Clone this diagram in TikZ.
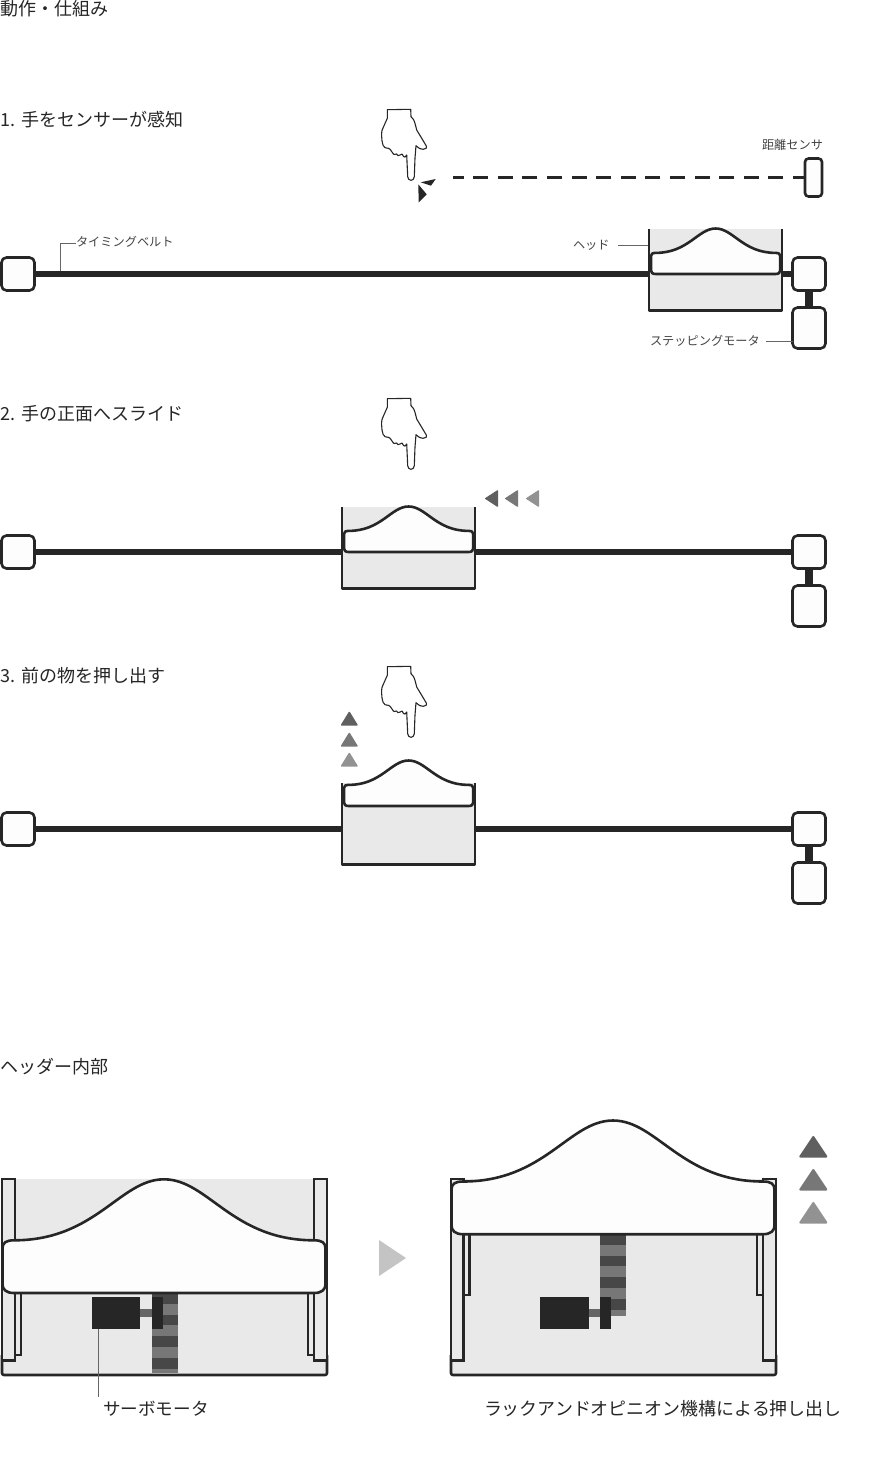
\documentclass[tikz,border=0pt]{standalone}
\usepackage{fontspec}
\setmainfont{Noto Sans CJK JP}
\definecolor{ink}{HTML}{252625}
\definecolor{pale}{HTML}{E9E9E9}
\definecolor{paper}{HTML}{FDFDFD}
\definecolor{leader}{HTML}{666666}
\definecolor{labelgray}{HTML}{444444}
\definecolor{tone1}{HTML}{5F5F5F}
\definecolor{tone2}{HTML}{777777}
\definecolor{tone3}{HTML}{929292}
\definecolor{rackdark}{HTML}{474747}
\definecolor{rackmid}{HTML}{777777}
\definecolor{shaft}{HTML}{666666}
\definecolor{bigarrow}{HTML}{C4C4C4}
\newcommand{\headshape}[4]{% cx, peak y, scale, line width
  \begin{scope}[shift={(#1,#2)},scale=#3]
    \draw[draw=ink,fill=paper,line width=#4,line join=round]
      (-161.5,69) .. controls (-161.5,63.5) and (-158,61) .. (-150,61)
      .. controls (-68,61) and (-44,0) .. (0,0)
      .. controls (44,0) and (68,61) .. (150,61)
      .. controls (158,61) and (161.5,63.5) .. (161.5,69)
      -- (161.5,105) .. controls (161.5,110) and (158,113.7) .. (150,113.7)
      -- (-150,113.7) .. controls (-158,113.7) and (-161.5,110) .. (-161.5,105) -- cycle;
  \end{scope}}
\newcommand{\handshape}[1]{%
  \begin{scope}[yshift={-#1pt}]
    \draw[draw=ink,fill=white,line width=1.1,line join=round]
      (387.3,109.7) -- (410.7,109.3) -- (411,116.7) .. controls (414,120) .. (415,123.3)
      .. controls (416,126) .. (416.7,130) -- (421.7,138.3) -- (426.3,146) .. controls (427,148) .. (423.3,149.3)
      .. controls (420,149) .. (416,145.7) -- (415,158) -- (414.3,176.7)
      .. controls (414,181.5) and (408,181.5) .. (407.7,176.7)
      -- (406.7,155) .. controls (405,157.5) .. (403.5,156.5) .. controls (402,153.5) .. (400,155)
      .. controls (398,156) .. (396.5,154) .. controls (394,155) .. (392,152)
      .. controls (390,149) .. (388.3,148.3) .. controls (385,148) .. (383.3,145.7)
      .. controls (381,140) and (381,130) .. (383.3,127.3) .. controls (385,123) .. (387.3,118.3) -- cycle;
  \end{scope}}
\newcommand{\smallbox}[2]{% left x, top y
  \fill[pale] (#1,#2) rectangle ++(133,81.5);
  \draw[draw=ink,line width=2.6,line join=round] (#1,#2) -- ++(0,81.5) -- ++(133,0) -- ++(0,-81.5);}
\newcommand{\uptri}[3]{% tip x, tip y, colour
  \fill[#3,draw=#3,line width=1.5,line join=round] (#1,#2+1) -- ++(-7.6,12.4) -- ++(15.2,0) -- cycle;}
\newcommand{\lefttri}[3]{% tip x, y, colour
  \fill[#3,draw=#3,line width=1,line join=round] (#1+0.5,#2) -- ++(12,-7.8) -- ++(0,15.6) -- cycle;}
\newcommand{\bigtri}[3]{%
  \fill[#3,draw=#3,line width=2,line join=round] (#1,#2+1.5) -- ++(-13,19.5) -- ++(26,0) -- cycle;}
\newcommand{\rackstripes}[3]{% left x, top y, bottom y
  \begin{scope}
    \clip (#1,#2) rectangle (#1+26,#3);
    \fill[rackmid] (#1,#2) rectangle (#1+26,#3);
    \foreach \k in {0,1,2,3}{\fill[rackdark] (#1,#2+\k*21.65) rectangle (#1+26,#2+10.8+\k*21.65);}
  \end{scope}}
\tikzset{
  every node/.style={inner sep=0pt,outer sep=0pt,text=ink,anchor=west},
  titletext/.style={font=\fontsize{18}{20}\selectfont},
  smalltext/.style={font=\fontsize{12.2}{14}\selectfont,text=labelgray},
  pulley/.style={draw=ink,fill=paper,line width=2.6,rounded corners=5,minimum width=33,minimum height=33,anchor=center},
  motorbox/.style={draw=ink,fill=paper,line width=2.6,rounded corners=5,minimum width=33,minimum height=41,anchor=center},
  belt/.style={draw=ink,line width=5.5},
  link/.style={draw=ink,line width=8},
  leaderline/.style={draw=leader,line width=0.9},
  solidblock/.style={fill=ink},
  wall/.style={draw=ink,fill=pale,line width=2.6},
}
\begin{document}
\begin{tikzpicture}[x=1pt,y=-1pt]
\useasboundingbox (0,0) rectangle (868,1470);
\fill[white] (0,0) rectangle (868,1470);

% headings
\node[titletext] (t0) at (1,9) {動作・仕組み};
\node[titletext] (t1) at (1,120) {1. 手をセンサーが感知};
\node[titletext] (t2) at (1,414) {2. 手の正面へスライド};
\node[titletext] (t3) at (1,676) {3. 前の物を押し出す};
\node[titletext] (t4) at (1,1067) {ヘッダー内部};

% scene 1
\handshape{0}
\fill[ink] (420.7,182.3) -- (435.7,179) -- (431,185.7) -- cycle;
\fill[ink] (418.3,184.3) -- (426.7,194.3) -- (418.7,202.3) -- cycle;
\node[draw=ink,fill=paper,line width=2.6,rounded corners=3.5,minimum width=17,minimum height=38,anchor=center] (sensor) at (813.5,177.5) {};
\coordinate (beamend) at (453,177);
\draw[draw=ink,line width=3,dash pattern=on 15 off 9.6,dash phase=3] (sensor.west |- beamend) -- (beamend);
\node[smalltext] (lsensor) at (762,145) {距離センサ};

\node[pulley] (a1) at (18,274) {};
\node[pulley] (b1) at (809,274) {};
\node[motorbox] (m1) at (809,328) {};
\draw[belt] (a1) -- (b1);
\draw[link] (b1) -- (m1);
\smallbox{649}{229}
\headshape{715.6}{228.5}{0.4}{2.6}
\node[smalltext] (lbelt) at (76,242) {タイミングベルト};
\coordinate (beltelbow) at (60,243);
\coordinate (belttouch) at (60,271);
\draw[leaderline] (lbelt.west |- beltelbow) -- (beltelbow) -- (belttouch);
\node[smalltext] (lhead) at (573,245.5) {ヘッド};
\coordinate (headstart) at (618,245);
\coordinate (headtouch) at (648,245);
\draw[leaderline] (headstart) -- (headtouch);
\node[smalltext] (lmotor) at (650,340.5) {ステッピングモータ};
\coordinate (motorstart) at (766,341);
\draw[leaderline] (motorstart) -- (m1.west |- motorstart);

% scene 2
\handshape{289}
\node[pulley] (a2) at (18,552) {};
\node[pulley] (b2) at (809,552) {};
\node[motorbox] (m2) at (809,606) {};
\draw[belt] (a2) -- (b2);
\draw[link] (b2) -- (m2);
\smallbox{342}{507}
\headshape{408.6}{506.5}{0.4}{2.6}
\lefttri{485}{498.5}{tone1}
\lefttri{505}{498.5}{tone2}
\lefttri{526}{498.5}{tone3}

% scene 3
\handshape{557}
\node[pulley] (a3) at (18,829) {};
\node[pulley] (b3) at (809,829) {};
\node[motorbox] (m3) at (809,883) {};
\draw[belt] (a3) -- (b3);
\draw[link] (b3) -- (m3);
\smallbox{342}{783}
\headshape{408.6}{760.5}{0.4}{2.6}
\uptri{349.3}{711.5}{tone1}
\uptri{349.3}{732.5}{tone2}
\uptri{349.3}{752.5}{tone3}

% interior, retracted
\fill[pale] (2,1179) rectangle (327,1375);
\draw[draw=ink,line width=2.6,rounded corners=2] (2,1355) -- (2,1375) -- (327,1375) -- (327,1355);
\draw[wall] (15,1280) rectangle (21,1355);
\draw[wall] (308,1280) rectangle (314,1355);
\draw[wall] (2,1179) rectangle (15,1360.7);
\draw[wall] (314,1179) rectangle (327,1360.7);
\rackstripes{152}{1293}{1372.7}
\fill[shaft] (140,1309) rectangle (152,1317);
\fill[solidblock] (92,1297.3) rectangle (140,1329.3);
\fill[solidblock] (152,1297.3) rectangle (163,1329.3);
\headshape{164}{1179.3}{1}{2.6}
\node (lservo) at (103,1409) {\fontsize{17.6}{20}\selectfont サーボモータ};
\coordinate (servotop) at (98,1329.3);
\coordinate (servoend) at (98,1397);
\draw[leaderline] (servotop) -- (servoend);

% transition arrow
\fill[bigarrow] (379,1240) -- (406,1258) -- (379,1276) -- cycle;

% interior, extended
\fill[pale] (451,1179) rectangle (776,1375);
\draw[draw=ink,line width=2.6,rounded corners=2] (451,1355) -- (451,1375) -- (776,1375) -- (776,1355);
\draw[wall] (463.5,1220) rectangle (469.5,1295);
\draw[wall] (757,1220) rectangle (763,1295);
\draw[wall] (451,1179) rectangle (463.5,1360.7);
\draw[wall] (763,1179) rectangle (776,1360.7);
\rackstripes{600}{1234}{1316}
\fill[shaft] (589,1309) rectangle (600,1317);
\fill[solidblock] (540,1297.3) rectangle (589,1329.3);
\fill[solidblock] (600,1297.3) rectangle (611,1329.3);
\headshape{613}{1120.5}{1}{2.6}
\node (lrack) at (484,1409) {\fontsize{17.95}{20}\selectfont ラックアンドオピニオン機構による押し出し};
\bigtri{813.3}{1135.5}{tone1}
\bigtri{813.3}{1168.5}{tone2}
\bigtri{813.3}{1201.5}{tone3}
\end{tikzpicture}
\end{document}
